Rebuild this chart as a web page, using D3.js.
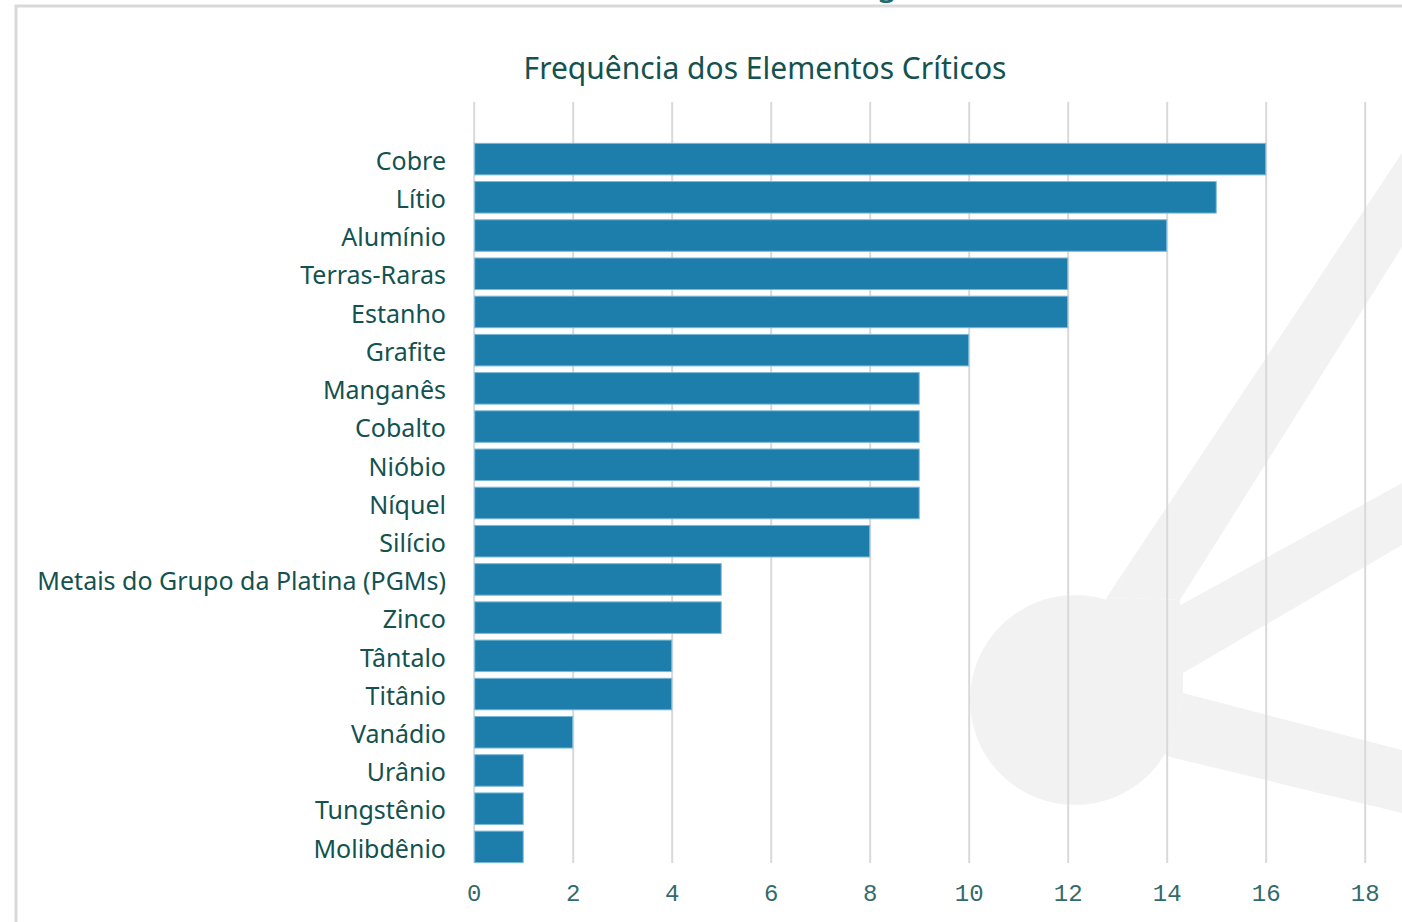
<!DOCTYPE html>
<html>
  <head>
    <meta charset="utf-8">
    <script src="https://d3js.org/d3.v7.min.js"></script>
    <style>
    body { margin: 0; background: #fff; }
    .cat { font-family: "Noto Sans", "Open Sans", sans-serif; font-size: 25px; fill: #13524f; }
    .tick text { font-family: "Liberation Mono", monospace; font-size: 24px; fill: #336b6b; }
    .grid line { stroke: #d9d9d9; stroke-width: 2; }
    </style>
  </head>
  <body>
    <script>

    // data
    var categories = ["Cobre", "Lítio", "Alumínio", "Terras-Raras", "Estanho", "Grafite",
      "Manganês", "Cobalto", "Nióbio", "Níquel", "Silício", "Metais do Grupo da Platina (PGMs)",
      "Zinco", "Tântalo", "Titânio", "Vanádio", "Urânio", "Tungstênio", "Molibdênio"];
    var values = [16, 15, 14, 12, 12, 10, 9, 9, 9, 9, 8, 5, 5, 4, 4, 2, 1, 1, 1];
    var tickValues = [0, 2, 4, 6, 8, 10, 12, 14, 16, 18];
    var title = "Frequência dos Elementos Críticos";

    var W = 1402, H = 922;
    var plotTop = 102, plotBottom = 863;

    var x = d3.scaleLinear().domain([0, 18]).range([473.7, 1364.7]);
    var y = d3.scaleBand().domain(categories).range([140, 866])
        .paddingInner(0.175).paddingOuter(0.0875);

    var svg = d3.select("body").append("svg")
        .attr("width", W)
        .attr("height", H);

    // faint logo watermark behind the plot
    var wm = svg.append("g").attr("fill", "#f2f2f2");
    wm.append("circle").attr("cx", 1075).attr("cy", 700).attr("r", 105);
    var shapes = [
      [[1107, 597], [1402, 153], [1402, 247], [1180, 600]],
      [[1177, 607], [1402, 483], [1402, 545], [1183, 673]],
      [[1183, 693], [1402, 750], [1402, 813], [1170, 757]],
      [[1107, 597], [1180, 600], [1183, 673], [1183, 693], [1170, 757], [1075, 700]]
    ];
    wm.selectAll("polygon").data(shapes).enter().append("polygon")
        .attr("points", function(d) { return d.map(function(p) { return p.join(","); }).join(" "); });

    // frame
    svg.append("rect")
        .attr("x", 16).attr("y", 6)
        .attr("width", W + 20).attr("height", H + 20)
        .attr("fill", "none")
        .attr("stroke", "#d9d9d9")
        .attr("stroke-width", 3);

    // descender of the heading above, cut off by the top edge
    svg.append("text")
        .attr("x", 887).attr("y", -5)
        .attr("text-anchor", "middle")
        .style("font-family", "Noto Sans")
        .style("font-size", "34px")
        .style("fill", "#1a6e6c")
        .text("g");

    svg.append("text")
        .attr("x", 765).attr("y", 79)
        .attr("text-anchor", "middle")
        .style("font-family", "'Noto Sans', sans-serif")
        .style("font-size", "30px")
        .style("fill", "#13524f")
        .text(title);

    // gridlines + tick labels
    var xAxis = d3.axisBottom(x).tickValues(tickValues)
        .tickSize(-(plotBottom - plotTop)).tickPadding(21)
        .tickFormat(d3.format("d"));

    var gx = svg.append("g")
        .attr("class", "grid tick")
        .attr("transform", "translate(0," + plotBottom + ")")
        .call(xAxis);
    gx.select(".domain").remove();

    svg.selectAll(".bar")
        .data(values)
        .enter().append("rect")
        .attr("class", "bar")
        .attr("x", x(0) + 1)
        .attr("y", function(d, i) { return y(categories[i]); })
        .attr("width", function(d) { return x(d) - x(0) - 1; })
        .attr("height", y.bandwidth())
        .attr("fill", "#1d7dab")
        .attr("stroke", "#7ab8da")
        .attr("stroke-width", 1);

    svg.selectAll(".cat")
        .data(categories)
        .enter().append("text")
        .attr("class", "cat")
        .attr("x", 446)
        .attr("y", function(d) { return y(d) + y.bandwidth() / 2 + 2; })
        .attr("dy", "0.35em")
        .attr("text-anchor", "end")
        .text(function(d) { return d; });

    </script>
  </body>
</html>
